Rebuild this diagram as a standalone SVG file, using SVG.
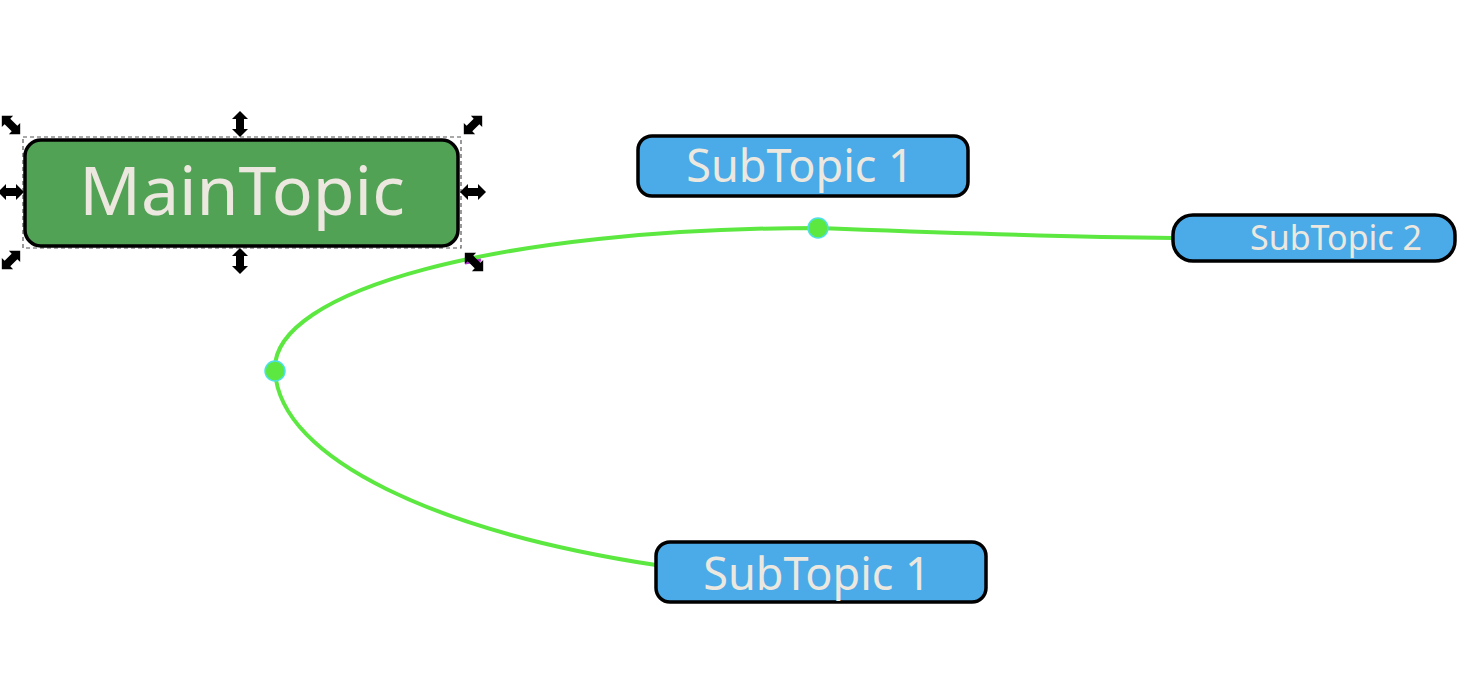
<svg xmlns="http://www.w3.org/2000/svg" width="1474" height="674" viewBox="0 0 1474 674">
  <style>
    .main { fill: #52a256; stroke: #000; stroke-width: 3.5; }
    .sub { fill: #4aabe8; stroke: #000; stroke-width: 3.5; }
    .lbl { fill: #ede8df; font-family: "Noto Sans", "Open Sans", sans-serif; }
    .conn { fill: none; stroke: #5ce840; stroke-width: 4; }
    .knot { fill: #5ce840; stroke: #4de0e8; stroke-width: 1.5; }
    .sel { fill: none; stroke: #555; stroke-width: 1.2; stroke-dasharray: 4 3; }
    .h { fill: #000; }
  </style>
  <defs>
    <polygon id="dbl" points="0,-13 8,-5 4,-5 4,5 8,5 0,13 -8,5 -4,5 -4,-5 -8,-5"/>
  </defs>
  <rect width="1474" height="674" fill="#fff"/>

  <g id="connectors">
    <path class="conn" d="M 656 565 C 440 532 280 460 275 371 C 270 290 500 228 818 228 C 950 233 1050 237 1173 238"/>
    <line x1="465" y1="263" x2="481" y2="260" stroke="#b030d0" stroke-width="3"/>
    <circle class="knot" cx="818" cy="228" r="10"/>
    <circle class="knot" cx="275" cy="371" r="10"/>
  </g>

  <g id="main-topic">
    <rect class="sel" x="23" y="137" width="438" height="111"/>
    <rect class="main" x="25" y="140" width="433" height="106" rx="16"/>
    <text class="lbl" x="242" y="215" font-size="68" text-anchor="middle">MainTopic</text>
  </g>

  <g id="handles" class="h">
    <use href="#dbl" transform="translate(11,125) rotate(-45)"/>
    <use href="#dbl" transform="translate(240,124)"/>
    <use href="#dbl" transform="translate(473,125) rotate(45)"/>
    <use href="#dbl" transform="translate(11,192) rotate(90)"/>
    <use href="#dbl" transform="translate(473,192) rotate(90)"/>
    <use href="#dbl" transform="translate(11,260) rotate(45)"/>
    <use href="#dbl" transform="translate(240,261)"/>
    <use href="#dbl" transform="translate(474,262) rotate(-45)"/>
  </g>

  <g id="subtopic1-top">
    <rect class="sub" x="638" y="136" width="330" height="60" rx="14"/>
    <text class="lbl" x="800" y="182" font-size="45" text-anchor="middle">SubTopic 1</text>
  </g>

  <g id="subtopic2">
    <rect class="sub" x="1173" y="215" width="282" height="46" rx="20"/>
    <text class="lbl" x="1250" y="250" font-size="34">SubTopic 2</text>
  </g>

  <g id="subtopic1-bottom">
    <rect class="sub" x="656" y="542" width="330" height="60" rx="14"/>
    <text class="lbl" x="817" y="590" font-size="45" text-anchor="middle">SubTopic 1</text>
  </g>
</svg>
